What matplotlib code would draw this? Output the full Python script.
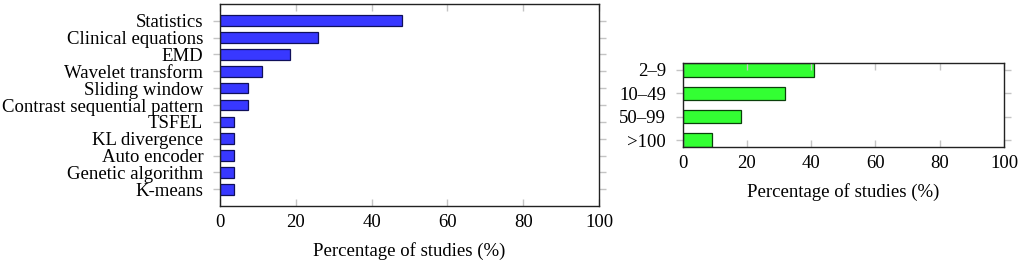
import matplotlib
matplotlib.use("Agg")
import matplotlib.pyplot as plt

methods = ["Statistics", "Clinical equations", "EMD", "Wavelet transform",
           "Sliding window", "Contrast sequential pattern", "TSFEL",
           "KL divergence", "Auto encoder", "Genetic algorithm", "K-means"]
method_pct = [48.1, 25.9, 18.5, 11.1, 7.4, 7.4, 3.7, 3.7, 3.7, 3.7, 3.7]

sizes = ["2–9", "10–49", "50–99", ">100"]
size_pct = [40.9, 31.8, 18.2, 9.1]

xticks = [0, 20, 40, 60, 80, 100]
xlabel = "Percentage of studies (%)"

plt.rcParams['font.family'] = ['Liberation Serif', 'DejaVu Serif']
plt.rcParams['mathtext.fontset'] = 'stix'
FS = 13.5

W, H = 1021, 262
fig = plt.figure(figsize=(W / 100, H / 100), dpi=100)

def style(ax):
    for s in ax.spines.values():
        s.set_linewidth(1.0)
        s.set_color('#222222')
    ax.set_xlim(0, 100)
    ax.set_xticks(xticks)
    ax.tick_params(axis='x', direction='in', top=True, bottom=True,
                   length=5, color='#c4c4c4', width=1, labelsize=FS, pad=6)
    ax.tick_params(axis='y', direction='out', left=True, right=True,
                   length=5, color='#c4c4c4', width=1, labelsize=FS, pad=7)
    ax.set_xlabel(xlabel, fontsize=FS, labelpad=8)

# Left chart
ax1 = fig.add_axes([220 / W, 1 - 206 / H, (599 - 220) / W, (206 - 4) / H])
h1 = 0.62
ax1.barh(range(len(methods)), method_pct, height=h1, color='#3838ff',
         edgecolor='#10105a', linewidth=0.9)
ax1.set_yticks(range(len(methods)))
ax1.set_yticklabels(methods)
ax1.set_ylim(10.99, -0.99)
style(ax1)

# Right chart
ax2 = fig.add_axes([682.7 / W, 1 - 146.7 / H, (1004 - 682.7) / W, (146.7 - 63.3) / H])
h2 = 0.57
ax2.barh(range(len(sizes)), size_pct, height=h2, color='#33ff33',
         edgecolor='#0a400a', linewidth=0.9)
ax2.set_yticks(range(len(sizes)))
ax2.set_yticklabels(sizes)
ax2.set_ylim(len(sizes) - 1 + h2 / 2, -h2 / 2)
style(ax2)

fig.savefig("out.png", dpi=100)
